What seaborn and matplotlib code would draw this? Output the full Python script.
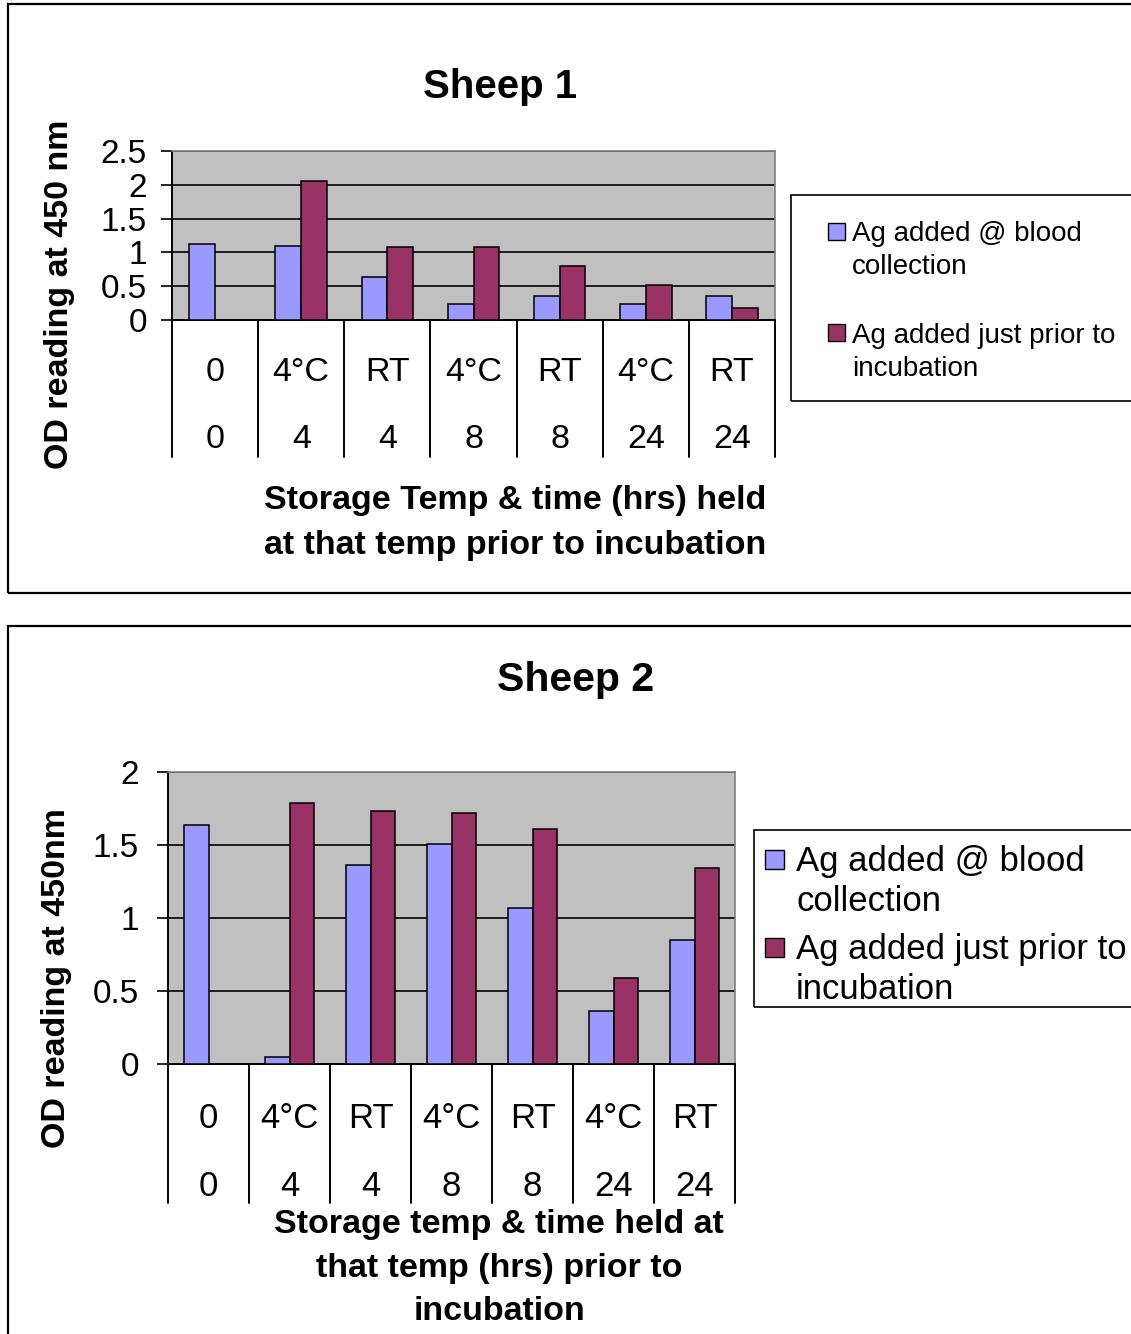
import numpy as np
import pandas as pd
import matplotlib
matplotlib.use("Agg")
import matplotlib.pyplot as plt
import matplotlib.patches as mpatches
from matplotlib.ticker import FuncFormatter, MultipleLocator
from matplotlib.transforms import blended_transform_factory
import seaborn as sns

# ---- data -------------------------------------------------------------
storage_temp = ["0", "4°C", "RT", "4°C", "RT", "4°C", "RT"]
hours_held = ["0", "4", "4", "8", "8", "24", "24"]
series_names = ["Ag added @ blood collection", "Ag added just prior to incubation"]

sheep1_at_collection = [1.13, 1.10, 0.64, 0.23, 0.36, 0.23, 0.36]
sheep1_prior_incub = [np.nan, 2.05, 1.08, 1.08, 0.80, 0.52, 0.18]

sheep2_at_collection = [1.64, 0.05, 1.36, 1.51, 1.07, 0.36, 0.85]
sheep2_prior_incub = [np.nan, 1.79, 1.73, 1.72, 1.61, 0.59, 1.34]

bar_colors = ["#9999FF", "#993366"]

# ---- styling ----------------------------------------------------------
sns.set_style("white")
plt.rcParams["font.family"] = ["Liberation Sans", "DejaVu Sans"]
for key in ("text.color", "axes.labelcolor", "xtick.color", "ytick.color"):
    plt.rcParams[key] = "black"

W, H = 1131, 1334
fig = plt.figure(figsize=(W / 100, H / 100), dpi=100)


def fx(x):
    return x / W


def fy(y):
    return 1 - y / H


def make_frame(df_a, df_b):
    cats = [f"{t} {h}" for t, h in zip(storage_temp, hours_held)]
    rows = []
    for c, a, b in zip(cats, df_a, df_b):
        rows.append((c, series_names[0], a))
        rows.append((c, series_names[1], b))
    df = pd.DataFrame(rows, columns=["cat", "series", "od"]).dropna()
    return df, cats


def draw_panel(box, vals_a, vals_b, ymax, table_depth, lvl1, lvl2, tick_fs, cat_fs, pad):
    x0, y0, x1, y1 = box
    ax = fig.add_axes([fx(x0), fy(y1), (x1 - x0) / W, (y1 - y0) / H])
    df, cats = make_frame(vals_a, vals_b)
    sns.barplot(data=df, x="cat", y="od", hue="series", order=cats,
                hue_order=series_names, palette=bar_colors, saturation=1,
                width=0.6, gap=0, dodge=True, errorbar=None,
                edgecolor="black", linewidth=1.1, legend=False, ax=ax, zorder=3)
    ax.set_facecolor("#C0C0C0")
    ax.set_xlim(-0.5, len(cats) - 0.5)
    ax.set_ylim(0, ymax)
    ax.yaxis.set_major_locator(MultipleLocator(0.5))
    ax.yaxis.set_major_formatter(FuncFormatter(lambda v, p: f"{v:g}"))
    ax.set_axisbelow(True)
    ax.yaxis.grid(True, color="black", linewidth=1.2)
    ax.xaxis.grid(False)
    ax.set_xlabel("")
    ax.set_ylabel("")
    ax.set_xticks([])
    ax.tick_params(axis="y", which="major", direction="out", length=8, width=1.2,
                   color="black", pad=pad, labelsize=tick_fs, left=True)
    for side in ("top", "right"):
        ax.spines[side].set_color("#808080")
        ax.spines[side].set_linewidth(1.2)
    for side in ("left", "bottom"):
        ax.spines[side].set_color("black")
        ax.spines[side].set_linewidth(1.4)

    # two-level category table under the axis
    tr = blended_transform_factory(ax.transData, ax.transAxes)
    for b in np.arange(-0.5, len(cats), 1.0):
        ax.plot([b, b], [0, -table_depth], transform=tr, color="black",
                linewidth=1.4, clip_on=False)
    for i, (t, h) in enumerate(zip(storage_temp, hours_held)):
        ax.text(i, lvl1, t, transform=tr, ha="center", va="center", fontsize=cat_fs)
        ax.text(i, lvl2, h, transform=tr, ha="center", va="center", fontsize=cat_fs)
    return ax


def draw_legend(x_sq, sq, x_txt, entries, fs, ls):
    # entries: (baseline of the last label line, centre of the colour square)
    labels = ["Ag added @ blood\ncollection", "Ag added just prior to\nincubation"]
    for color, lab, (base, sq_c) in zip(bar_colors, labels, entries):
        fig.add_artist(mpatches.Rectangle((fx(x_sq), fy(sq_c + sq / 2)), sq / W, sq / H,
                                          transform=fig.transFigure, facecolor=color,
                                          edgecolor="black", linewidth=1.0))
        fig.text(fx(x_txt), fy(base), lab, fontsize=fs, ha="left", va="baseline",
                 linespacing=ls)


# ---- panel frames -----------------------------------------------------
fig.add_artist(mpatches.Rectangle((fx(8), fy(593)), (1160 - 8) / W, (593 - 4) / H,
                                  transform=fig.transFigure, fill=False,
                                  edgecolor="black", linewidth=1.6))
fig.add_artist(mpatches.Rectangle((fx(8), fy(1360)), (1160 - 8) / W, (1360 - 626) / H,
                                  transform=fig.transFigure, fill=False,
                                  edgecolor="black", linewidth=1.6))

# ---- Sheep 1 ----------------------------------------------------------
draw_panel((172, 151, 775, 320), sheep1_at_collection, sheep1_prior_incub, 2.5,
           137 / 169, -52 / 169, -119 / 169, 24, 24.5, 10)
fig.text(fx(500), fy(87), "Sheep 1", fontsize=29, fontweight="bold", ha="center", va="center")
fig.text(fx(60), fy(294), "OD reading at 450 nm", fontsize=24.5, fontweight="bold",
         rotation=90, ha="center", va="center")
fig.text(fx(515), fy(523), "Storage Temp & time (hrs) held\nat that temp prior to incubation",
         fontsize=24.5, fontweight="bold", ha="center", va="center", linespacing=1.62,
         multialignment="center")
fig.add_artist(mpatches.Rectangle((fx(791), fy(401)), (1160 - 791) / W, (401 - 195) / H,
                                  transform=fig.transFigure, fill=False,
                                  edgecolor="black", linewidth=1.2))
draw_legend(828, 17, 852, [(274, 231), (376, 333)], 20, 1.33)

# ---- Sheep 2 ----------------------------------------------------------
draw_panel((168, 772, 735, 1064), sheep2_at_collection, sheep2_prior_incub, 2.0,
           139 / 292, -54 / 292, -122 / 292, 24, 25, 13)
fig.text(fx(576), fy(680), "Sheep 2", fontsize=29.5, fontweight="bold", ha="center", va="center")
fig.text(fx(57), fy(978), "OD reading at 450nm", fontsize=24.5, fontweight="bold",
         rotation=90, ha="center", va="center")
fig.text(fx(499), fy(1268), "Storage temp & time held at\nthat temp (hrs) prior to\nincubation",
         fontsize=24.5, fontweight="bold", ha="center", va="center", linespacing=1.5,
         multialignment="center")
fig.add_artist(mpatches.Rectangle((fx(754), fy(1007)), (1160 - 754) / W, (1007 - 830) / H,
                                  transform=fig.transFigure, fill=False,
                                  edgecolor="black", linewidth=1.2))
draw_legend(765, 19, 796, [(911, 859), (999, 947)], 25, 1.28)

fig.savefig("out.png", dpi=100)
